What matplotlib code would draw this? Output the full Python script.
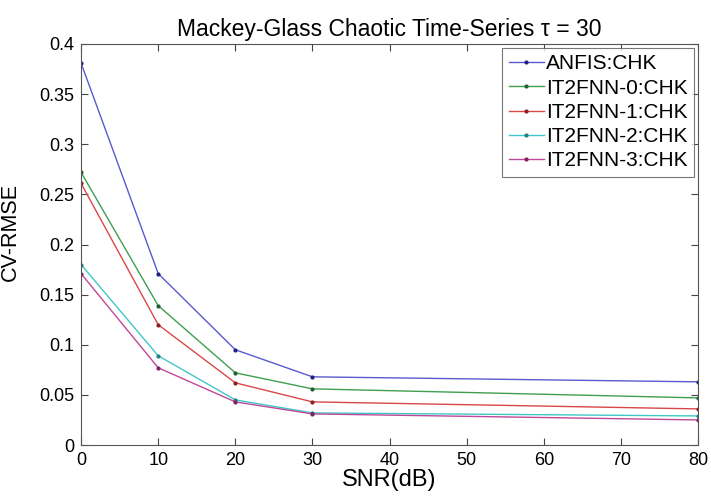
import numpy as np
import matplotlib.pyplot as plt

plt.rcParams['font.family'] = ['Liberation Sans', 'DejaVu Sans']

# SNR levels (dB) and CV-RMSE per model
snr = [0, 10, 20, 30, 80]
anfis = [0.381, 0.171, 0.095, 0.068, 0.063]
it2fnn0 = [0.272, 0.139, 0.072, 0.056, 0.047]
it2fnn1 = [0.261, 0.120, 0.062, 0.043, 0.036]
it2fnn2 = [0.180, 0.089, 0.045, 0.032, 0.029]
it2fnn3 = [0.171, 0.077, 0.043, 0.031, 0.025]

labels = ['ANFIS:CHK', 'IT2FNN-0:CHK', 'IT2FNN-1:CHK', 'IT2FNN-2:CHK', 'IT2FNN-3:CHK']
colors = ['#5a5ad0', '#3f9f4f', '#d84848', '#40c8c8', '#c04898']
marker_colors = ['#202080', '#206030', '#902020', '#208080', '#802060']

fig = plt.figure(figsize=(7.11, 5.0), dpi=100)
ax = fig.add_axes([0.114, 0.11, 0.868, 0.802])

for ys, lab, c, mc in zip([anfis, it2fnn0, it2fnn1, it2fnn2, it2fnn3], labels, colors, marker_colors):
    ax.plot(snr, ys, color=c, lw=1.0, marker='.', ms=4, mfc=mc, mec=mc, label=lab)

ax.set_xlim(0, 80)
ax.set_ylim(0, 0.4)
ax.set_xticks(np.arange(0, 81, 10))
yt = np.arange(0, 0.401, 0.05)
ax.set_yticks(yt)
ax.set_yticklabels(['0', '0.05', '0.1', '0.15', '0.2', '0.25', '0.3', '0.35', '0.4'])
ax.tick_params(direction='in', top=True, right=True, labelsize=13, length=5, color='#444444', pad=5)
for s in ax.spines.values():
    s.set_color('#555555')

ax.set_xlabel('SNR(dB)', fontsize=17, labelpad=0)
ax.set_ylabel('CV-RMSE', fontsize=15.5)
ax.yaxis.set_label_coords(-0.097, 0.53)
ax.set_title('Mackey-Glass Chaotic Time-Series τ = 30', fontsize=16.5, pad=6)

leg = ax.legend(loc='upper right', fontsize=15, frameon=True, fancybox=False,
                edgecolor='#555555', handlelength=1.7, handletextpad=0.1,
                labelspacing=0.25, borderaxespad=0.2, borderpad=0.3)
leg.get_frame().set_linewidth(0.8)

fig.savefig('out.png', dpi=100)
